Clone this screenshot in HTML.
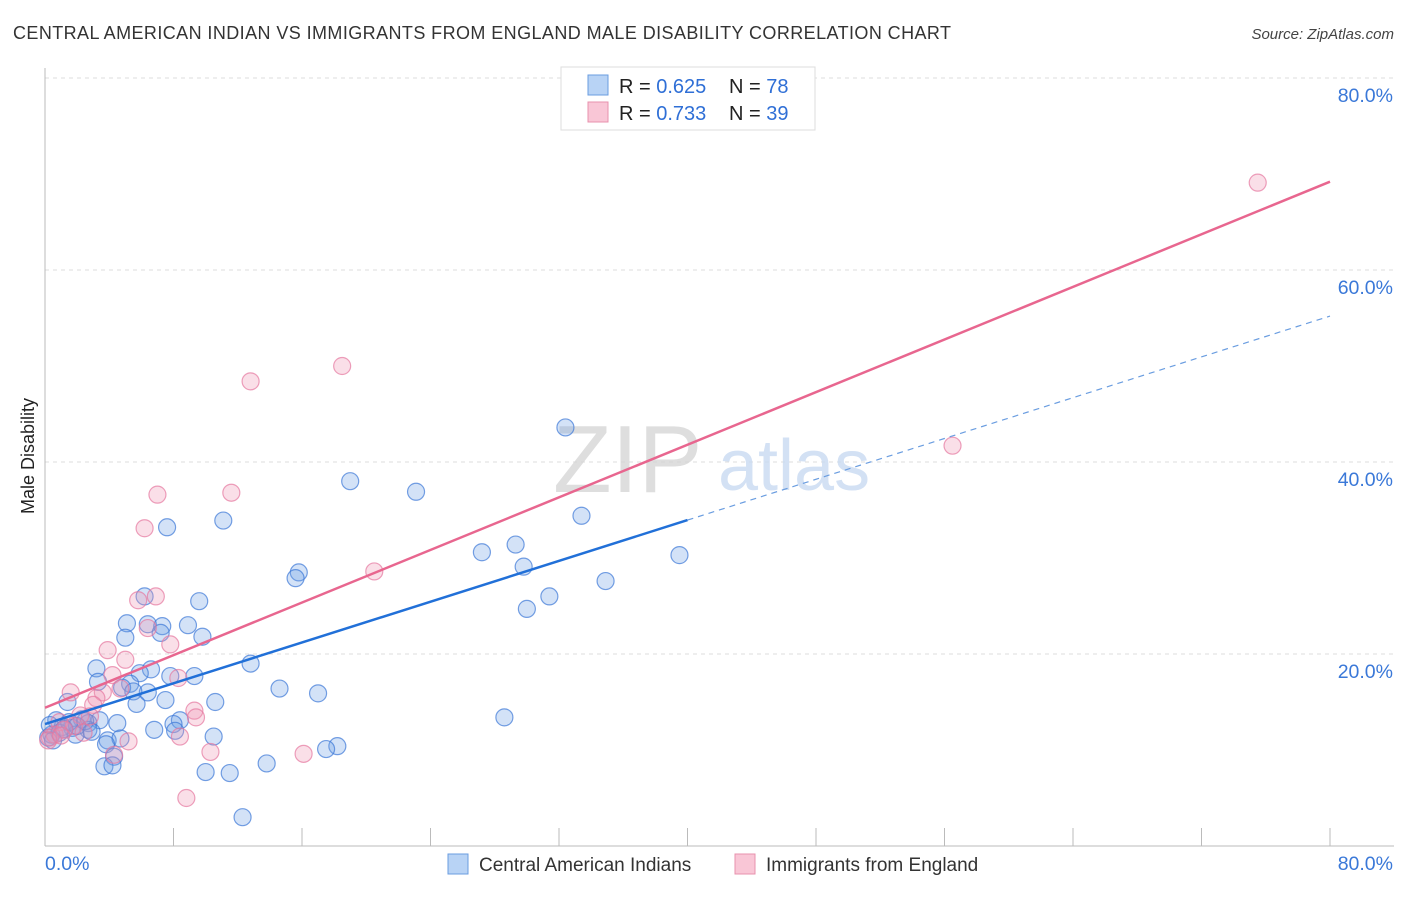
<!DOCTYPE html>
<html><head><meta charset="utf-8"><style>
body{margin:0;background:#fff;font-family:"Liberation Sans",sans-serif;}
svg text{font-family:"Liberation Sans",sans-serif;}
</style></head><body>
<svg id="chart" width="1406" height="892" xmlns="http://www.w3.org/2000/svg">
<text x="13" y="39" font-size="18" fill="#333" textLength="938" lengthAdjust="spacing">CENTRAL AMERICAN INDIAN VS IMMIGRANTS FROM ENGLAND MALE DISABILITY CORRELATION CHART</text>
<text x="1394" y="39" font-size="15" fill="#444" text-anchor="end" font-style="italic">Source: ZipAtlas.com</text>
<text transform="translate(34,456) rotate(-90)" font-size="18" fill="#222" text-anchor="middle">Male Disability</text>
<g id="grid"></g>
<text x="553" y="492" font-size="96" fill="#d6d6d6" font-family="Liberation Serif" opacity="0.8">ZIP</text>
<text x="718" y="490" font-size="72" fill="#c9daf2" opacity="0.8">atlas</text>
<g id="marks"></g>
<g>
<rect x="561" y="67" width="254" height="63" fill="#fff" stroke="#ddd"/>
<rect x="588" y="75" width="20" height="20" fill="#b8d3f5" stroke="#6a9de0"/>
<rect x="588" y="102" width="20" height="20" fill="#f9c6d6" stroke="#e891ad"/>
<text x="619" y="93" font-size="20" fill="#222">R = <tspan fill="#2f6fd6">0.625</tspan></text>
<text x="729" y="93" font-size="20" fill="#222">N = <tspan fill="#2f6fd6">78</tspan></text>
<text x="619" y="120" font-size="20" fill="#222">R = <tspan fill="#2f6fd6">0.733</tspan></text>
<text x="729" y="120" font-size="20" fill="#222">N = <tspan fill="#2f6fd6">39</tspan></text>
</g>
<g>
<rect x="448" y="854" width="20" height="20" fill="#b8d3f5" stroke="#6a9de0"/>
<text x="479" y="871" font-size="19" fill="#333">Central American Indians</text>
<rect x="735" y="854" width="20" height="20" fill="#f9c6d6" stroke="#e891ad"/>
<text x="766" y="871" font-size="19" fill="#333">Immigrants from England</text>
</g>
</svg>
<script>
const yTicks=[20,40,60,80];
const yTickLabels=["20.0%","40.0%","60.0%","80.0%"];
const xTickLabels=["0.0%","80.0%"];
const blueX=[32.4,19.0,23.1,11.1,7.6,33.4,29.3,27.2,39.5,15.8,15.6,29.8,34.9,31.4,30.0,6.2,9.6,5.1,6.4,7.3,8.9,7.2,5.0,9.8,12.8,3.2,6.6,5.9,7.8,9.3,3.3,5.3,4.8,14.6,17.0,6.4,5.5,7.5,5.7,10.6,1.4,28.6,3.4,4.5,8.4,8.0,6.8,8.1,2.3,2.7,1.7,2.7,0.7,1.1,0.4,1.9,3.9,4.7,10.5,3.8,18.2,17.5,4.3,3.7,4.2,13.8,10.0,11.5,12.3,0.2,0.3,0.9,1.5,2.0,2.5,0.5,1.2,2.9];
const blueY=[43.6,38.0,36.9,33.9,33.2,34.4,31.4,30.6,30.3,28.5,27.9,29.1,27.6,26.0,24.7,26.0,25.5,23.2,23.1,22.9,23.0,22.2,21.7,21.8,19.0,18.5,18.4,18.0,17.7,17.7,17.1,16.9,16.5,16.4,15.9,16.0,16.1,15.2,14.8,15.0,15.0,13.4,13.1,12.8,13.1,12.7,12.1,12.0,13.2,12.8,12.3,12.1,13.1,12.4,11.6,11.6,11.0,11.2,11.4,10.6,10.4,10.1,9.3,8.3,8.4,8.6,7.7,7.6,3.0,11.3,12.6,11.8,12.9,12.5,13.0,11.0,12.2,11.9];
const pinkX=[75.5,56.5,18.5,12.8,7.0,11.6,6.2,20.5,6.9,5.8,6.4,7.8,3.9,5.0,4.2,8.3,4.7,3.6,1.6,3.2,3.0,9.3,9.4,2.2,2.8,0.9,1.8,0.6,0.3,8.4,5.2,10.3,4.3,16.1,8.8,1.2,2.4,0.2,1.0];
const pinkY=[69.1,41.7,50.0,48.4,36.6,36.8,33.1,28.6,26.0,25.6,22.7,21.0,20.4,19.4,17.8,17.5,16.4,16.0,16.0,15.4,14.7,14.1,13.4,13.6,13.5,12.9,12.5,11.6,11.3,11.4,10.9,9.8,9.5,9.6,5.0,12.1,11.8,11.0,11.5];
const blueTrend=[12.7,55.2];
const pinkTrend=[14.4,69.2];
const blueSolidEnd=40;
const NS="http://www.w3.org/2000/svg";
const sx=v=>45+v/80*1285;
const sy=v=>846-v/20*192;
function mk(tag,attrs,parent){const e=document.createElementNS(NS,tag);for(const k in attrs)e.setAttribute(k,attrs[k]);parent.appendChild(e);return e;}
const grid=document.getElementById('grid');
const marks=document.getElementById('marks');
yTicks.forEach((t,i)=>{
 const l=mk('line',{x1:45,x2:1394,y1:sy(t),y2:sy(t),stroke:'#ddd','stroke-dasharray':'4,4'},grid);
 
 
 const tx=mk('text',{x:1393,y:sy(t)+24,'font-size':19.5,fill:'#3a78d8','text-anchor':'end'},grid);
 tx.textContent=yTickLabels[i];
 
 
});
const ax=mk('line',{x1:45,x2:45,y1:68,y2:846,stroke:'#bbb'},grid);


const bx=mk('line',{x1:45,x2:1394,y1:846,y2:846,stroke:'#bbb'},grid);


for(let i=1;i<=10;i++){const t=mk('line',{x1:sx(i*8),x2:sx(i*8),y1:828,y2:846,stroke:'#bbb'},grid);
 
 }
[[0,'start'],[80,'end']].forEach((p,i)=>{const t=mk('text',{x:i?1393:45,y:870,'font-size':19.5,fill:'#3a78d8','text-anchor':p[1]},grid);t.textContent=xTickLabels[i];
 
 });
blueX.forEach((x,i)=>{const c=mk('circle',{cx:sx(x),cy:sy(blueY[i]),r:8.5,fill:'rgba(110,160,230,0.3)',stroke:'rgba(60,120,215,0.7)','stroke-width':1.2},marks);
 
 });
pinkX.forEach((x,i)=>{const c=mk('circle',{cx:sx(x),cy:sy(pinkY[i]),r:8.5,fill:'rgba(240,150,180,0.3)',stroke:'rgba(230,120,160,0.7)','stroke-width':1.2},marks);
 
 });
const by=x=>blueTrend[0]+(blueTrend[1]-blueTrend[0])*x/80;
const l1=mk('line',{x1:sx(0),y1:sy(by(0)),x2:sx(blueSolidEnd),y2:sy(by(blueSolidEnd)),stroke:'#2170d8','stroke-width':2.5},marks);


const l2=mk('line',{x1:sx(blueSolidEnd),y1:sy(by(blueSolidEnd)),x2:sx(80),y2:sy(by(80)),stroke:'#6a9de0','stroke-width':1.2,'stroke-dasharray':'6,5'},marks);


const l3=mk('line',{x1:sx(0),y1:sy(pinkTrend[0]),x2:sx(80),y2:sy(pinkTrend[1]),stroke:'#e8668f','stroke-width':2.5},marks);


</script>
</body></html>
